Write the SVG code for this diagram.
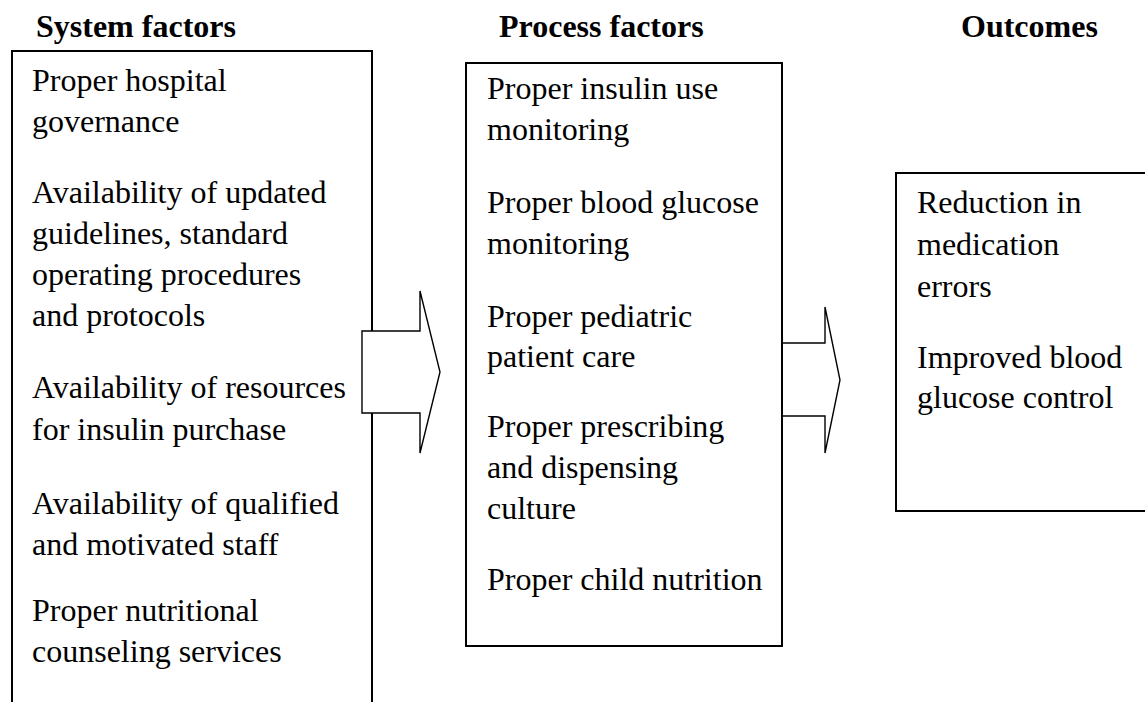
<svg xmlns="http://www.w3.org/2000/svg" width="1145" height="702" viewBox="0 0 1145 702">
<style>
.box{fill:#fff;stroke:#000;stroke-width:2}
.arr{fill:#fff;stroke:#000;stroke-width:1.4;stroke-linejoin:miter}
.t{font-family:"Liberation Serif","Times New Roman",serif;font-size:32px;fill:#000}
.h{font-family:"Liberation Serif","Times New Roman",serif;font-size:32px;font-weight:bold;fill:#000}
</style>
<rect width="1145" height="702" fill="#fff"/>
<g id="headers">
<text class="h" x="36" y="37">System factors</text>
<text class="h" x="499" y="37">Process factors</text>
<text class="h" x="961" y="37">Outcomes</text>
</g>
<g id="system">
<path class="box" d="M12,703 V51 H372 V703"/>
<text class="t" x="32" y="91">Proper hospital</text>
<text class="t" x="32" y="132">governance</text>
<text class="t" x="32" y="203">Availability of updated</text>
<text class="t" x="32" y="244">guidelines, standard</text>
<text class="t" x="32" y="285">operating procedures</text>
<text class="t" x="32" y="326">and protocols</text>
<text class="t" x="32" y="398">Availability of resources</text>
<text class="t" x="32" y="440">for insulin purchase</text>
<text class="t" x="32" y="514">Availability of qualified</text>
<text class="t" x="32" y="555">and motivated staff</text>
<text class="t" x="32" y="621">Proper nutritional</text>
<text class="t" x="32" y="662">counseling services</text>
</g>
<g id="connectors">
<polygon class="arr" points="362,331 420,331 420,291 440,372 420,453 420,413 362,413"/>
<polygon class="arr" points="772,343 825,343 825,307 840,380 825,453 825,416 772,416"/>
</g>
<g id="process">
<rect class="box" x="466" y="63" width="316" height="583"/>
<text class="t" x="487" y="99">Proper insulin use</text>
<text class="t" x="487" y="140">monitoring</text>
<text class="t" x="487" y="213">Proper blood glucose</text>
<text class="t" x="487" y="254">monitoring</text>
<text class="t" x="487" y="327">Proper pediatric</text>
<text class="t" x="487" y="367">patient care</text>
<text class="t" x="487" y="437">Proper prescribing</text>
<text class="t" x="487" y="478">and dispensing</text>
<text class="t" x="487" y="519">culture</text>
<text class="t" x="487" y="590">Proper child nutrition</text>
</g>
<g id="outcomes">
<rect class="box" x="896" y="173" width="260" height="338"/>
<text class="t" x="917" y="213">Reduction in</text>
<text class="t" x="917" y="255">medication</text>
<text class="t" x="917" y="297">errors</text>
<text class="t" x="917" y="368">Improved blood</text>
<text class="t" x="917" y="408">glucose control</text>
</g>
</svg>
